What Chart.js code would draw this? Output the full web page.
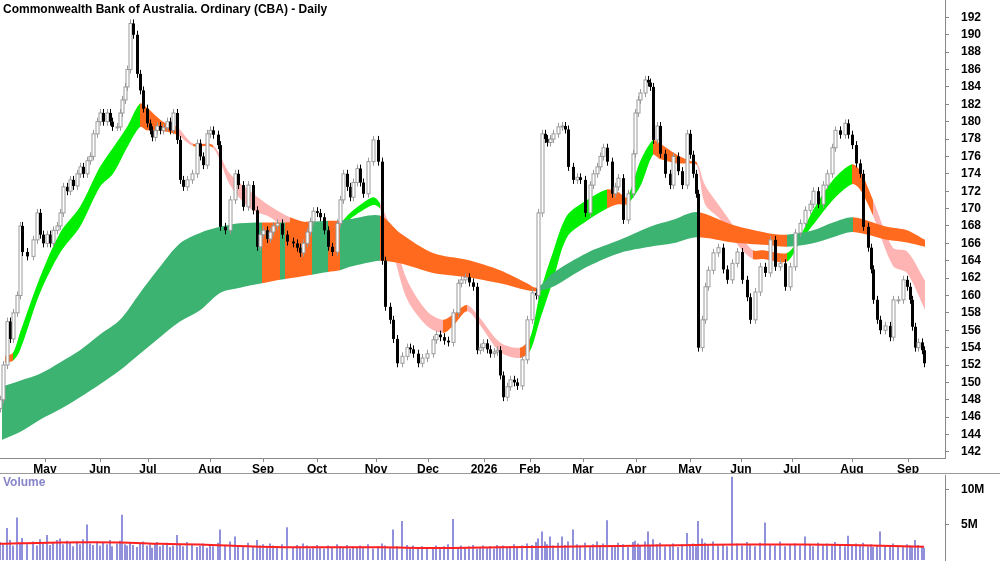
<!DOCTYPE html>
<html>
<head>
<meta charset="utf-8">
<script src="https://cdn.jsdelivr.net/npm/chart.js@4/dist/chart.umd.min.js"></script>
<style>
  body { margin:0; background:#fff; font-family:"Liberation Sans", Arial, sans-serif; }
  #wrap { position:relative; width:1000px; height:562px; overflow:hidden; }
  canvas { position:absolute; left:0; }
  .lbl { position:absolute; font-weight:bold; font-size:12px; }
</style>
</head>
<body>
<div id="wrap">
  <canvas id="price" width="1000" height="474" style="top:0"></canvas>
  <canvas id="vol" width="1000" height="88" style="top:474px"></canvas>
  <div style="position:absolute;left:0;top:473px;width:1000px;height:1px;background:#999"></div>
  <div class="lbl" style="left:3px;top:2px;color:#000">Commonwealth Bank of Australia. Ordinary (CBA) - Daily</div>
  <div class="lbl" style="left:3px;top:475px;color:#8585c8">Volume</div>
</div>
<script>
// session position on the time axis, one entry per bar
const barPos = [
  0,3,7,10,13,17,20,22,27,33,
  37,40,43,47,50,53,57,60,63,67,
  70,73,77,80,83,87,90,93,97,100,
  103,107,110,112,117,120,122,125,127,130,
  133,137,140,143,147,150,152,155,157,160,
  163,167,170,173,177,180,183,187,192,197,
  200,203,207,210,213,218,220,225,230,235,
  238,243,248,253,257,260,263,267,270,273,
  277,282,287,293,297,300,303,307,310,313,
  317,320,324,328,332,337,340,343,347,350,
  353,357,360,363,368,373,378,382,385,390,
  393,397,402,407,410,413,418,422,427,433,
  436,440,444,448,453,458,461,465,469,473,
  477,480,483,487,490,494,497,500,503,507,
  510,514,517,522,527,532,536,538,542,545,
  547,550,553,558,562,565,568,573,577,580,
  585,590,593,597,600,603,607,612,615,618,
  623,628,633,635,638,640,645,648,650,653,
  657,660,665,670,673,678,682,687,690,693,
  696,698,702,705,708,713,718,723,727,732,
  737,742,747,750,755,760,765,770,775,780,
  785,790,795,800,805,810,813,818,823,827,
  832,835,840,845,848,852,856,860,863,868,
  871,873,877,880,885,890,893,898,903,907,
  910,912,915,918,922,924
];
const closes = [
  148,152,157,155,158,160,168,165,164.5,166.4,
  169.5,167,166,167,166,167.5,168,169.5,172.5,172,
  173.3,172.6,174,174.8,174,175.5,176,178.6,180,181,
  180,181,180,179.4,179.4,181,182.5,184,186,191.3,
  190,185.5,183.6,181.5,179.8,179,178.2,179,179.5,179,
  179.3,180,179,181,177.9,173.3,172.5,173.3,174,177.5,
  176,175,178.6,179,178.5,177.3,167.9,167.5,171,174,
  172.7,170.2,172.7,169.8,165.6,167,167.5,166.5,167.3,168,
  168.3,167,166.2,166,165.5,164.9,166,167.3,168.5,169.7,
  169.5,169,167.5,165.6,165,168.3,171,174,172.5,171.3,
  173,174.6,173,171.7,175.4,177.9,175.4,164,158.7,157.2,
  155,152.2,153,154,153.8,153.3,152.2,152.8,153.3,154.9,
  155.5,155.2,154.8,154.6,158,161.4,161.8,162.1,161.5,161,
  153.7,154,154.5,153.8,153.3,153.5,153.7,150.8,148.3,149.5,
  150.3,150,149.6,152.6,157.2,160.3,160,169.5,178.6,178,
  177.6,178,178.6,179.4,179.5,179.1,174.8,173.3,173.6,173.3,
  169.5,172.7,174,174.8,176,177,175.4,171.7,172.5,173.5,
  168.7,171.7,176.3,181,182.5,183.3,184.8,184.5,184,177.9,
  179.5,176.3,174,172.7,176,174.3,172.7,178.6,176.2,174,
  171.7,154,157.2,161,162.9,164.9,165.5,163,161.8,163.7,
  165,161.8,159.8,157.2,160.4,163.3,162.6,166.4,163.3,163.7,
  161,163.3,167.2,168.3,169.8,170.5,172,170.5,172.7,174,
  177,179,178.5,179.8,178.5,177.3,175.2,174,167.9,165.5,
  163,159.5,157.2,156,156.5,155.2,159.5,159.5,161.8,161,
  159.5,156.4,154,154.6,153.7,152.2
];
// volume in millions, same bars
const volume = [
  2.5,2.2,4.5,2.8,2.0,6.0,2.4,3.1,2.2,2.6,
  2.0,2.9,2.3,3.5,2.1,2.5,2.8,3.0,2.2,2.7,
  2.4,1.9,2.6,2.2,2.9,5.0,2.3,2.1,2.6,2.0,
  2.4,2.2,2.8,1.9,2.3,2.7,6.4,2.2,2.0,2.5,
  2.1,1.8,2.4,2.6,2.0,2.2,1.7,2.3,2.5,1.9,
  2.1,2.4,1.8,2.0,3.5,2.2,1.9,2.5,2.1,1.8,
  2.0,2.3,1.7,2.2,1.9,2.4,4.3,2.0,2.6,3.3,
  2.1,1.8,2.4,1.9,2.8,2.0,2.2,1.7,2.3,2.0,
  1.9,2.2,4.6,1.8,2.1,1.7,2.3,2.0,1.6,1.9,
  2.1,1.8,1.6,2.0,1.7,2.2,1.9,1.8,2.1,1.6,
  1.9,1.7,2.0,1.8,2.2,1.6,1.9,2.3,2.0,1.8,
  4.3,1.9,5.5,2.1,1.7,2.0,1.6,1.9,1.8,1.7,
  2.0,1.6,1.9,2.2,5.8,1.8,2.0,1.7,1.9,2.1,
  1.6,1.8,2.0,1.7,1.9,1.6,2.1,1.8,2.0,1.7,
  1.9,2.2,1.8,2.0,2.3,2.1,2.5,3.0,4.0,2.6,
  2.2,3.3,2.0,2.4,3.3,2.1,2.6,4.3,2.2,2.0,
  2.4,1.9,2.2,2.6,2.0,2.3,5.6,2.1,1.9,2.4,
  2.2,1.8,2.5,2.7,2.3,2.1,2.6,4.0,2.0,2.9,
  2.2,2.4,1.9,2.1,2.3,1.8,2.2,3.8,2.0,2.3,
  1.9,5.5,3.0,2.4,2.1,2.6,2.0,2.2,1.9,11.8,
  2.3,2.0,2.5,2.1,1.9,2.4,5.3,2.2,2.0,2.6,
  1.9,2.1,2.3,2.0,3.3,2.2,1.9,2.4,2.1,2.3,
  2.0,2.5,2.2,1.9,3.4,2.1,2.3,2.0,2.4,1.9,
  2.2,1.8,2.1,4.0,2.0,1.8,2.3,2.1,1.9,2.2,
  2.0,1.8,2.8,2.1,1.9,1.7
];
const volMaPos = [0,60,120,160,200,260,320,380,440,500,560,620,680,740,800,860,924];
const volMa    = [2.3,2.5,2.5,2.3,2.2,1.9,1.8,1.8,1.7,1.8,1.9,2.0,2.1,2.2,2.2,2.1,1.9];

// short-term ribbon (g = rising, p = falling, o = mixed)
const shortPos = [5,13,20,40,60,80,100,113,127,140,147,163,177,193,213,230,250,270,290,310,327,337,350,373,380,393,407,427,443,453,467,480,500,520,530,540,553,567,587,607,618,627,640,653,660,677,690,697,705,720,740,753,763,787,800,813,833,852,860,873,893,907,925];
const shortTop = [153,153.4,155.7,162.1,167.2,170.2,174.8,177,179.4,182.1,181.6,180,179.4,177.5,177.3,174,172,170.3,169,168.3,168.2,168,169.5,171.3,170.6,167,161.8,158.2,157.2,157.8,158.9,157.4,154.6,154,155.1,160.3,165,169.2,171,172.2,171.9,171.3,175.4,177.9,177.5,176.2,175.5,175.3,172.7,170.2,167,165.2,165.2,164.9,166.8,169.8,173.3,175.1,174.4,171,165.5,165.1,161.7];
const shortBot = [152.3,152.5,153.7,160.3,164.9,167.9,172.5,174,177,179.4,179,178.9,178.5,177.2,177,172.7,170,169,167.5,167.9,167.5,167.5,168.8,170.4,170,165,159.6,156.5,155.7,156.5,158.2,156.6,153.5,152.8,153.6,157.2,161.7,166.7,168.6,170,170.5,170.5,172.5,176.2,175.7,175.2,175.2,175,170.5,168.8,165.5,164.2,164.2,163.9,166.2,168.1,171,172.8,172.2,169.2,163.4,162.6,158.4];
const shortState = ["o","g","g","g","g","g","g","g","g","o","o","o","p","o","p","p","p","p","o","o","g","g","g","g","p","p","p","p","o","o","p","p","p","o","g","g","g","g","g","o","o","g","g","o","o","o","o","p","p","p","p","o","o","g","g","g","g","o","o","p","p","p","p"];

// long-term ribbon
const longPos = [2,20,40,60,80,100,120,140,160,180,200,220,240,262,280,285,312,328,340,350,380,400,433,467,500,527,537,553,587,620,650,673,697,733,767,787,813,833,853,887,907,925];
const longTop = [149.5,150.2,151,152.3,153.7,155.5,157.2,160.3,163.3,166,167.2,167.9,168.3,168.4,168.4,168.4,168.5,168.6,168.6,168.8,169.2,167.2,164.9,164.1,162.9,161.4,160.9,162.6,164.9,166.4,167.9,168.7,169.6,168.1,167.2,167,167.5,168.4,169,167.9,167.5,166.4];
const longBot = [143.4,144.3,145.7,146.9,148.3,149.8,151.4,153.3,155.2,157,158.3,160.3,160.9,161.4,161.8,161.9,162.4,162.7,162.9,163.3,164,163.7,162.6,162.1,161.4,160.6,160.5,161,163.3,164.9,165.6,166,166.7,166.1,165.8,165.6,166,166.7,167.3,166.4,166.1,165.6];
const longState = ["g","g","g","g","g","g","g","g","g","g","g","g","g","o","g","o","g","o","g","g","o","o","o","o","o","o","g","g","g","g","g","g","o","o","o","g","g","g","o","o","o","o"];

const monthPos = [45,100,148,210,263,317,376,428,484,530,583,636,690,741,792,852,908];
const monthLbl = ["May","Jun","Jul","Aug","Sep","Oct","Nov","Dec","2026","Feb","Mar","Apr","May","Jun","Jul","Aug","Sep"];
const priceTicks = [142,144,146,148,150,152,154,156,158,160,162,164,166,168,170,172,174,176,178,180,182,184,186,188,190,192];

const SHORT_COL = { g: "#00ee00", p: "#ffb4b4", o: "#ff6a1f" };
const LONG_COL  = { g: "#3cb371", p: "#ffb4b4", o: "#ff6a1f" };
const AXIS = "#8a8a8a";
const FONT = { family: "'Liberation Sans', Arial, sans-serif", size: 12, weight: "bold" };

const pts = (xs, ys) => xs.map((x, i) => ({ x, y: ys[i] }));
const noPad = s => { s.paddingTop = 0; s.paddingBottom = 0; s.paddingLeft = 0; s.paddingRight = 0; };

function ribbon(pos, top, bot, state, cols) {
  return [
    { data: pts(pos, top), borderWidth: 0, pointRadius: 0, fill: false, tension: 0.3 },
    { data: pts(pos, bot), borderWidth: 0, pointRadius: 0, fill: "-1", tension: 0.3,
      backgroundColor: cols.g,
      segment: { backgroundColor: c => cols[state[c.p0DataIndex]] } }
  ];
}

// draws the daily bars through the chart's scales
const candles = {
  id: "candles",
  afterDatasetsDraw(chart) {
    const { ctx, scales: { x, y } } = chart;
    ctx.save();
    closes.forEach((c, i) => {
      const o = i ? closes[i - 1] : c - 1;
      const up = c >= o;
      const px = Math.round(x.getPixelForValue(barPos[i])) + 0.5;
      const yt = y.getPixelForValue(Math.max(o, c));
      const yb = y.getPixelForValue(Math.min(o, c));
      ctx.strokeStyle = up ? "#9a9a9a" : "#000";
      ctx.lineWidth = 1;
      ctx.beginPath();
      ctx.moveTo(px, yt - 4); ctx.lineTo(px, yb + 4);
      ctx.stroke();
      const h = Math.max(yb - yt, 1);
      if (up) {
        ctx.fillStyle = "#fff";
        ctx.fillRect(px - 1.5, yt, 3, h);
        ctx.strokeRect(px - 1.5, yt, 3, h);
      } else {
        ctx.fillStyle = "#000";
        ctx.fillRect(px - 1.5, yt, 3, h);
      }
    });
    ctx.restore();
  }
};

new Chart(document.getElementById("price"), {
  type: "line",
  data: {
    datasets: [
      ...ribbon(longPos, longTop, longBot, longState, LONG_COL),
      ...ribbon(shortPos, shortTop, shortBot, shortState, SHORT_COL)
    ]
  },
  options: {
    responsive: false, animation: false, devicePixelRatio: 1,
    layout: { padding: 0 },
    plugins: { legend: { display: false }, tooltip: { enabled: false } },
    scales: {
      x: {
        type: "linear", min: 0, max: 945,
        afterBuildTicks: a => { a.ticks = monthPos.map(v => ({ value: v })); },
        afterFit: s => { s.height = 16; noPad(s); },
        ticks: { callback: (v, i) => monthLbl[i], autoSkip: false, maxRotation: 0, padding: 0, color: "#000", font: FONT },
        grid: { drawOnChartArea: false, tickLength: 4, color: AXIS },
        border: { color: AXIS }
      },
      y: {
        position: "right", min: 141.3, max: 194,
        afterBuildTicks: a => { a.ticks = priceTicks.map(v => ({ value: v })); },
        afterFit: s => { s.width = 55; noPad(s); },
        ticks: { padding: 12, color: "#000", font: FONT },
        grid: { drawOnChartArea: false, tickLength: 4, color: AXIS },
        border: { color: AXIS }
      }
    }
  },
  plugins: [candles]
});

new Chart(document.getElementById("vol"), {
  type: "bar",
  data: {
    datasets: [
      { type: "line", data: pts(volMaPos, volMa), borderColor: "#ff2020", borderWidth: 2, pointRadius: 0, tension: 0.3 },
      { data: pts(barPos, volume), backgroundColor: "#7b7bd4", barThickness: 1 }
    ]
  },
  options: {
    responsive: false, animation: false, devicePixelRatio: 1,
    layout: { padding: { top: 1, bottom: 2 } },
    plugins: { legend: { display: false }, tooltip: { enabled: false } },
    scales: {
      x: { type: "linear", min: 0, max: 945, offset: false, display: false },
      y: {
        position: "right", min: 0, max: 12.1,
        afterBuildTicks: a => { a.ticks = [{ value: 5 }, { value: 10 }]; },
        afterFit: s => { s.width = 55; noPad(s); },
        ticks: { callback: v => v + "M", padding: 12, color: "#000", font: FONT },
        grid: { drawOnChartArea: false, tickLength: 4, color: AXIS },
        border: { color: AXIS }
      }
    }
  }
});
</script>
</body>
</html>
